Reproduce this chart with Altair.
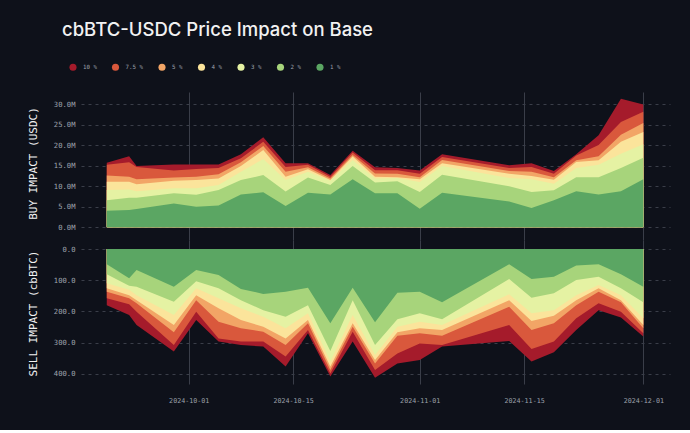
import altair as alt
import pandas as pd

dates = ["2024-09-20", "2024-09-23", "2024-09-24", "2024-09-29", "2024-10-02", "2024-10-05",
         "2024-10-08", "2024-10-11", "2024-10-14", "2024-10-17", "2024-10-20", "2024-10-23",
         "2024-10-26", "2024-10-29", "2024-11-01", "2024-11-04", "2024-11-13", "2024-11-16",
         "2024-11-19", "2024-11-22", "2024-11-25", "2024-11-28", "2024-12-01"]

levels = ["10 %", "7.5 %", "5 %", "4 %", "3 %", "2 %", "1 %"]
colors = ["#a51b2b", "#d9583c", "#f2a566", "#fbe49b", "#e5f2a3", "#a7d47b", "#5ba663"]

# Buy impact (USDC, millions) at each depth level
buy_10 = [15.7, 17.3, 14.9, 15.3, 15.3, 15.3, 17.8, 21.9, 15.6, 15.6, 12.7, 18.6, 14.6, 14.4, 13.8, 17.8, 15.1, 15.6, 13.7, 17.8, 22.4, 31.3, 29.9]
buy_75 = [15.2, 15.8, 14.7, 13.8, 14.2, 14.4, 16.8, 20.8, 14.7, 15.2, 12.3, 18.2, 13.9, 13.9, 13.0, 17.1, 14.4, 14.7, 13.0, 17.5, 20.0, 25.6, 28.1]
buy_5 = [12.6, 12.3, 11.7, 12.1, 12.3, 12.9, 15.8, 19.8, 13.5, 14.6, 11.9, 17.6, 13.1, 13.0, 12.2, 16.4, 13.7, 13.5, 12.2, 16.3, 17.3, 22.5, 25.4]
buy_4 = [11.1, 11.1, 10.5, 11.3, 11.5, 11.9, 14.9, 18.8, 12.3, 14.1, 11.5, 17.2, 12.3, 12.2, 11.7, 15.6, 13.0, 12.5, 11.6, 15.9, 16.3, 20.8, 23.2]
buy_3 = [9.1, 9.2, 8.8, 9.5, 9.5, 10.3, 13.5, 16.6, 11.5, 13.5, 11.3, 16.4, 11.9, 12.0, 11.0, 14.9, 12.0, 11.7, 10.6, 14.4, 15.2, 17.9, 20.2]
buy_2 = [6.6, 7.2, 7.2, 8.3, 7.9, 9.1, 11.5, 12.7, 8.7, 12.1, 10.3, 14.9, 10.9, 11.2, 8.6, 12.8, 10.0, 8.6, 9.0, 12.2, 12.2, 14.4, 16.9]
buy_1 = [4.0, 4.2, 4.45, 5.8, 5.0, 5.3, 8.0, 8.5, 5.2, 8.4, 8.0, 11.7, 8.3, 8.3, 4.5, 8.4, 6.3, 4.7, 6.6, 8.8, 8.0, 8.8, 11.7]

# Sell impact (cbBTC) at each depth level
sell_10 = [180, 212, 244, 329, 228, 297, 308, 313, 377, 270, 409, 297, 413, 367, 356, 313, 295, 361, 331, 260, 196, 220, 281]
sell_75 = [158, 177, 201, 308, 201, 287, 297, 297, 345, 260, 399, 265, 388, 335, 303, 308, 244, 321, 297, 222, 174, 201, 270]
sell_5 = [137, 158, 174, 267, 164, 233, 254, 265, 308, 238, 388, 249, 367, 278, 270, 278, 185, 260, 238, 180, 137, 171, 254]
sell_4 = [126, 148, 164, 244, 148, 190, 228, 249, 287, 228, 377, 238, 356, 267, 254, 260, 164, 231, 214, 164, 126, 164, 244]
sell_3 = [110, 131, 148, 212, 126, 158, 190, 217, 254, 206, 361, 212, 340, 249, 233, 244, 145, 206, 196, 148, 115, 148, 222]
sell_2 = [81, 118, 121, 169, 103, 126, 164, 196, 217, 180, 327, 164, 308, 225, 206, 225, 96, 156, 142, 99, 89, 126, 171]
sell_1 = [49, 94, 67, 121, 67, 83, 128, 144, 137, 124, 238, 124, 235, 140, 137, 171, 49, 96, 89, 53, 49, 81, 121]

x_ticks = ["2024-10-01", "2024-10-15", "2024-11-01", "2024-11-15", "2024-12-01"]
x_range = ["2024-09-16T13:00:00", "2024-12-04T14:00:00"]
buy_ticks = [0, 5e6, 10e6, 15e6, 20e6, 25e6, 30e6]
sell_ticks = [0, 100, 200, 300, 400]

buy_series = [buy_10, buy_75, buy_5, buy_4, buy_3, buy_2, buy_1]
sell_series = [sell_10, sell_75, sell_5, sell_4, sell_3, sell_2, sell_1]

rows_b, rows_s = [], []
for lvl, bs, ss in zip(levels, buy_series, sell_series):
    for d, b, s in zip(dates, bs, ss):
        rows_b.append({"date": d, "level": lvl, "value": b * 1e6})
        rows_s.append({"date": d, "level": lvl, "value": s})
df_b = pd.DataFrame(rows_b)
df_s = pd.DataFrame(rows_s)

def ms(s):
    return int(pd.Timestamp(s, tz="UTC").value // 10**6)

xscale = alt.Scale(type="utc", domain=[ms(x_range[0]), ms(x_range[1])], nice=False)
tick_ms = [ms(t) for t in x_ticks]

color = alt.Color(
    "level:N",
    scale=alt.Scale(domain=levels, range=colors),
    legend=alt.Legend(
        orient="none", direction="horizontal", legendX=-12, legendY=-29,
        title=None, symbolType="circle", symbolSize=50, symbolStrokeWidth=0,
        symbolOpacity=1, labelColor="#9ea3ad", labelFont="DejaVu Sans Mono",
        labelFontSize=5.8, labelOffset=6, columnPadding=14.5, padding=0,
    ),
)

def panel(df, yscale, yaxis, xaxis, h):
    layers = []
    for lvl in levels:
        layers.append(
            alt.Chart(df).transform_filter(alt.datum.level == lvl)
            .mark_area(opacity=1, interpolate="linear")
            .encode(
                x=alt.X("date:T", scale=xscale, axis=xaxis),
                y=alt.Y("value:Q", scale=yscale, axis=yaxis),
                y2=alt.datum(0),
                color=color,
            )
        )
    return alt.layer(*layers).properties(width=589, height=h)

top = panel(
    df_b,
    alt.Scale(domain=[-3.09e6, 32.92e6], nice=False, zero=False),
    alt.Axis(values=buy_ticks, labelExpr="format(datum.value/1e6, '.1f') + 'M'",
             title="BUY IMPACT (USDC)", titleX=-48, titleY=71, gridDash=[3, 4]),
    alt.Axis(values=tick_ms, labels=False, ticks=False, domain=False, grid=True,
             gridDash=[], title=None),
    148,
)

bottom = panel(
    df_s,
    alt.Scale(domain=[-29, 433], reverse=True, nice=False, zero=False),
    alt.Axis(values=sell_ticks, format=".1f",
             title="SELL IMPACT (cbBTC)", titleX=-48, titleY=73, gridDash=[3, 4]),
    alt.Axis(values=tick_ms, labelExpr="utcFormat(datum.value, '%Y-%m-%d')",
             ticks=False, domain=False, grid=True, gridDash=[], labelPadding=13,
             labelFontSize=6.7, title=None),
    144,
)

chart = alt.vconcat(top, bottom, spacing=0).properties(
    title=alt.TitleParams(
        "cbBTC-USDC Price Impact on Base", anchor="start", frame="group",
        font="Inter", fontSize=18.5, fontWeight=500, color="#f2f2f2", dx=-19,
        offset=24,
    ),
    padding={"left": 27, "top": 20, "right": 20, "bottom": 26},
).configure(
    background="#0e111a",
).configure_view(
    stroke=None,
).configure_axis(
    domain=False, ticks=False,
    labelColor="#9ea3ad", labelFont="DejaVu Sans Mono", labelFontSize=7.2,
    labelPadding=6, gridColor="#3a3e49", gridWidth=1,
    titleColor="#f2f2f2", titleFont="DejaVu Sans Mono", titleFontSize=11,
    titleFontWeight="normal", titleAngle=-90, titleAlign="center", titleBaseline="middle",
).configure_concat(spacing=0)

chart.save("out.html", embed_options={"renderer": "svg", "actions": False})
